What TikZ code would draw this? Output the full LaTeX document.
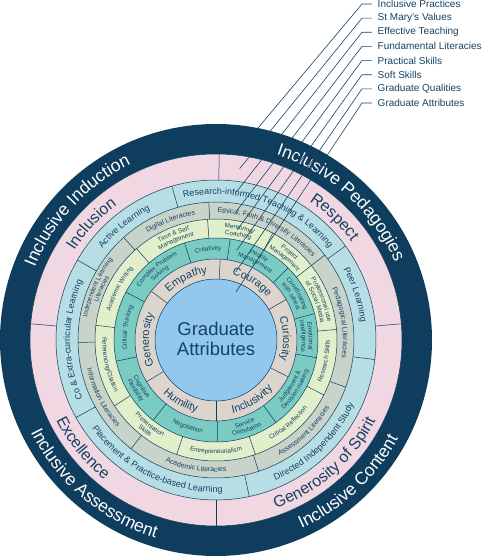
\documentclass[tikz,border=0pt]{standalone}
\usepackage{fontspec}
\setmainfont{Liberation Sans}
\usetikzlibrary{decorations.text}

\definecolor{navy}{RGB}{14,61,94}
\definecolor{ink}{RGB}{22,66,99}
\definecolor{rose}{RGB}{240,215,226}
\definecolor{sky}{RGB}{183,222,229}
\definecolor{sage}{RGB}{200,211,202}
\definecolor{lime}{RGB}{226,239,203}
\definecolor{aqua}{RGB}{122,203,194}
\definecolor{sand}{RGB}{220,213,206}
\definecolor{core}{RGB}{146,200,238}

% text read clockwise (tops outwards) and anticlockwise (tops inwards)
\newcommand{\arctop}[6][ink]{%
  \path[decorate,decoration={text along path,text align=center,
    text={|\fontsize{#5}{#5}\selectfont\color{#1}|#6}}]
    ({#3+#4}:#2pt) arc[start angle={#3+#4},end angle={#3-#4},radius=#2pt];}
\newcommand{\arcbot}[6][ink]{%
  \path[decorate,decoration={text along path,text align=center,
    text={|\fontsize{#5}{#5}\selectfont\color{#1}|#6}}]
    ({#3-#4}:#2pt) arc[start angle={#3-#4},end angle={#3+#4},radius=#2pt];}

\begin{document}
\begin{tikzpicture}[x=1pt,y=1pt,line width=0.5pt,
  tag/.style={anchor=west,inner xsep=5.5pt,inner ysep=1pt,text=ink,font=\fontsize{10}{12}\selectfont},
  leader/.style={draw=ink,line width=0.6pt}]
\useasboundingbox (-216,-218) rectangle (268,340);

% rings
\fill[navy] (0,0) circle[radius=216pt];
\draw[navy,fill=rose] (0,0) circle[radius=186pt];
\draw[navy,fill=sky] (0,0) circle[radius=160pt];
\draw[navy,fill=sage] (0,0) circle[radius=138pt];
\draw[navy,fill=lime] (0,0) circle[radius=121pt];
\draw[navy,fill=aqua] (0,0) circle[radius=102pt];
\draw[navy,fill=sand] (0,0) circle[radius=81pt];
\draw[navy,fill=core] (0,0) circle[radius=61pt];

% dividers
\foreach \a in {89,175,5,270} \draw[navy] (\a:160pt) -- (\a:186pt);
\foreach \a in {36,106,150,209,282,353} \draw[navy] (\a:138pt) -- (\a:160pt);
\foreach \a in {93,132,38,-20,-72,-128,181} \draw[navy] (\a:121pt) -- (\a:138pt);
\foreach \a in {131,94,62,38,5,-27,-71,-109,-147,173} \draw[navy] (\a:102pt) -- (\a:121pt);
\foreach \a in {108,82,45,15,-10,-54,-89,-128,192,152} \draw[navy] (\a:81pt) -- (\a:102pt);
\foreach \a in {30,87,143,211,270,333} \draw[navy] (\a:61pt) -- (\a:81pt);

% outer band
\arctop[white]{195}{137}{40}{17.5}{Inclusive Induction}
\arctop[white]{195}{47.7}{40}{17.5}{Inclusive Pedagogies}
\arcbot[white]{207}{-47}{40}{17.5}{Inclusive Content}
\arcbot[white]{207}{229.7}{40}{17.5}{Inclusive Assessment}

% values
\arctop{167.3}{137}{40}{16}{Inclusion}
\arctop{167.3}{46}{40}{16}{Respect}
\arcbot{178.7}{-48.6}{45}{16}{Generosity of Spirit}
\arcbot{178.7}{219}{40}{16}{Excellence}

% teaching
\arctop{145.8}{71}{38}{9}{Research-informed Teaching {\&} Learning}
\arctop{145.8}{129}{25}{9}{Active Learning}
\arctop{145.8}{180}{32}{9}{Co {\&} Extra-curricular Learning}
\arcbot{152.2}{244}{38}{9}{Placement {\&} Practice-based Learning}
\arcbot{152.2}{-46}{38}{9}{Directed Independent Study}
\arctop{145.8}{18}{25}{9}{Peer Learning}

% literacies
\arctop{127}{111}{22}{7}{Digital Literacies}
\arctop{127}{65}{30}{7}{Ethical, Faith {\&} Diversity Literacies}
\arctop{127}{8}{30}{7}{Pedagogical Literacies}
\arcbot{132}{-46}{28}{7}{Assessment Literacies}
\arcbot{132}{-99}{30}{7}{Academic Literacies}
\arcbot{132}{207}{28}{7}{Information Literacies}
\arctop{130.7}{156}{27}{6.5}{Independent Learning}
\arctop{123.7}{156}{27}{6.5}{Literacies}

% practical skills
\arctop{112.8}{112}{20}{6.3}{Time {\&} Self}
\arctop{105.8}{112}{20}{6.3}{Management}
\arctop{112.8}{78}{18}{6.3}{Mentoring/}
\arctop{105.8}{78}{18}{6.3}{Coaching}
\arctop{112.8}{50}{15}{6.3}{Project}
\arctop{105.8}{50}{15}{6.3}{Management}
\arctop{112.8}{21}{18}{6.3}{Professional use}
\arctop{105.8}{21}{18}{6.3}{of Social Media}
\arcbot{113.7}{-11}{18}{6.3}{Research Skills}
\arcbot{113.7}{-49}{24}{6.3}{Critical Reflection}
\arcbot{113.7}{-90}{22}{6.3}{Entrepreneurialism}
\arcbot{110.2}{-128}{22}{6.3}{Presentation}
\arcbot{117.2}{-128}{22}{6.3}{Skills}
\arcbot{113.7}{193}{22}{6.3}{Referencing/Citation}
\arctop{109.3}{152}{23}{6.3}{Academic Writing}

% soft skills
\arctop{89.3}{95}{15}{6.3}{Creativity}
\arctop{92.8}{63}{20}{6.3}{People}
\arctop{85.8}{63}{20}{6.3}{Management}
\arctop{92.8}{30}{17}{6.3}{Coordinating}
\arctop{85.8}{30}{17}{6.3}{with others}
\arctop{92.8}{2.5}{16}{6.3}{Emotional}
\arctop{85.8}{2.5}{16}{6.3}{Intelligence}
\arcbot{90.2}{-32}{24}{6.3}{Judgement {\&}}
\arcbot{97.2}{-32}{24}{6.3}{Decision making}
\arcbot{90.2}{-71}{20}{6.3}{Service}
\arcbot{97.2}{-71}{20}{6.3}{Orientation}
\arcbot{93.7}{-108}{22}{6.3}{Negotiation}
\arcbot{90.2}{212}{22}{6.3}{Cognitive}
\arcbot{97.2}{212}{22}{6.3}{Flexibility}
\arctop{89.3}{172}{22}{6.3}{Critical Thinking}
\arctop{92.8}{130}{24}{6.3}{Complex Problem}
\arctop{85.8}{130}{24}{6.3}{Solving}

% qualities
\arctop{67.1}{116}{30}{11}{Empathy}
\arctop{67.1}{58}{30}{11}{Courage}
\arctop{67.1}{1}{30}{11}{Curiosity}
\arcbot{74.9}{-59}{30}{11}{Inclusivity}
\arcbot{74.9}{-120}{30}{11}{Humility}
\arctop{67.1}{180}{30}{11}{Generosity}

\node[align=center,text=ink,font=\fontsize{18.5}{20}\selectfont] (centre) at (0,1) {Graduate\\Attributes};

% key
\foreach \lab/\ex/\ey [count=\i] in {Inclusive Practices/30/197.7, St Mary’s Values/23.7/171.4,
    Effective Teaching/20/147.6, Fundamental Literacies/20.2/128.5, Practical Skills/21.1/110,
    Soft Skills/20.7/89.6, Graduate Qualities/19.8/68.2, Graduate Attributes/19.9/48}{
  \node[tag] (lbl\i) at (156,{336-14.14*(\i-1)}) {\lab};
  \coordinate (end\i) at (\ex,\ey);
  \draw[leader] (lbl\i.west) -- ++(-10,0) -- (end\i);
}
\end{tikzpicture}
\end{document}
